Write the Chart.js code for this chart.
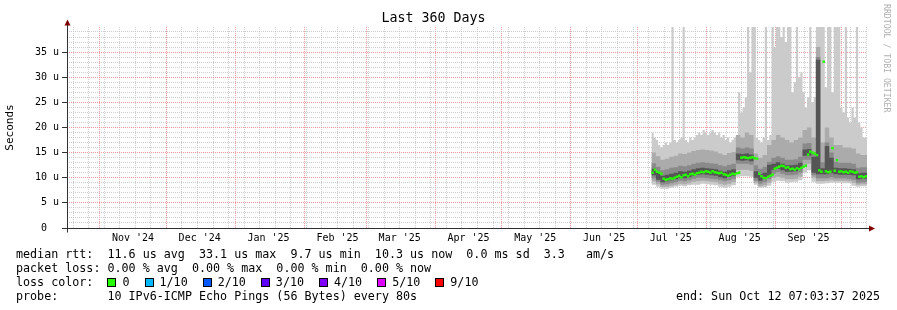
<!DOCTYPE html>
<html><head><meta charset="utf-8">
<script src="https://cdn.jsdelivr.net/npm/chart.js@4/dist/chart.umd.min.js"></script>
<style>
html,body{margin:0;padding:0;background:#fff;}
#wrap{position:relative;width:897px;height:310px;overflow:hidden;background:#fff;}
#c{position:absolute;left:0;top:0;}
.mono{font-family:'DejaVu Sans Mono',monospace;font-size:11.7px;white-space:pre;position:absolute;color:#000;line-height:14px;}
.sq{display:inline-block;width:7px;height:7px;border:1px solid #000;margin-right:6px;vertical-align:-1px;}
.lbl{margin-right:15px;}
#credit{position:absolute;left:882px;top:4px;font-family:'DejaVu Sans Mono',monospace;font-size:8.2px;color:#b0b0b0;writing-mode:vertical-rl;white-space:pre;line-height:9px;}
</style></head><body>
<div id="wrap">
<canvas id="c" width="897" height="310"></canvas>
<div id="credit">RRDTOOL / TOBI OETIKER</div>
</div>
<script>
// ---- text ----
const chartTitle = 'Last 360 Days';
const yAxisTitle = 'Seconds';
const monthLabels = ["Nov '24","Dec '24","Jan '25","Feb '25","Mar '25","Apr '25","May '25","Jun '25","Jul '25","Aug '25","Sep '25"];
const yTickValues = [0,5,10,15,20,25,30,35];
const yTickLabels = ['0  ','5 u','10 u','15 u','20 u','25 u','30 u','35 u'];
const statRtt  = 'median rtt:  11.6 us avg  33.1 us max  9.7 us min  10.3 us now  0.0 ms sd  3.3   am/s';
const statLoss = 'packet loss: 0.00 % avg  0.00 % max  0.00 % min  0.00 % now';
const lossTitle = 'loss color:  ';
const lossLabels = ['0','1/10','2/10','3/10','4/10','5/10','9/10'];
const lossColors = ['#26ff00','#00b8ff','#0059ff','#5e00ff','#7e00ff','#dd00ff','#ff0000'];
const probeLine = 'probe:       10 IPv6-ICMP Echo Pings (56 Bytes) every 80s';
const endLine = 'end: Sun Oct 12 07:03:37 2025';

// ---- data (microseconds), day index from graph start ----
const firstDay = 263;
// daily values, days 263..359
const medianRtt = [11.0,11.6,11.2,11.0,10.8,9.8,9.6,9.7,9.9,9.8,
 10.0,10.2,10.4,10.1,10.5,10.6,10.3,10.7,10.8,10.6,
 10.9,11.0,11.2,11.1,11.3,11.2,11.0,11.3,11.1,11.0,
 10.9,11.0,10.7,10.6,10.4,10.6,10.8,10.7,10.9,11.0,
 14.0,14.1,14.0,13.9,14.0,14.1,13.9,13.8,10.8,10.3,
 10.0,9.9,10.2,10.4,10.6,11.8,12.0,12.2,12.4,12.3,
 12.0,12.1,11.7,11.8,11.6,11.9,11.7,12.0,12.2,12.4,
 14.6,15.2,15.0,14.8,14.5,11.5,11.2,33.1,11.3,11.1,
 11.2,15.9,11.4,13.5,11.2,11.3,11.1,11.2,11.0,11.3,
 11.2,11.0,11.1,10.2,10.3,10.1,10.3];
const maxRtt = [19.5,19,18,17.5,16.5,16,16.5,17,16.5,17,
 40,17.5,17,17.5,18,40,17.5,17,18,17.5,
 18,18.5,19,18.5,19.5,19,18.5,19,19.5,19,
 18.5,19,18,18.5,17.5,18,17,17.5,18,18.5,
 27,23,24,26,40,31,40,40,18,17.5,
 17,18,40,17.5,18.5,40,36,40,40,38,
 40,37,40,40,27,29,40,30,31,27,
 24,26,40,25,26,40,40,40,40,28,
 40,40,27,40,40,40,24,23,40,22,
 21,24,22,40,21,20,18];
// two-day values, days 263,265,...,359
const minRtt = [8.8,8.6,8.2,7.8,7.8,8.0,8.2,8.4,8.3,8.5,
 8.6,8.6,8.8,8.7,8.6,8.5,8.2,8.0,8.2,8.5,
 10.2,10.3,10.3,10.2,8.6,8.0,8.1,8.4,9.2,9.4,
 9.3,9.0,9.1,9.2,9.5,11.0,11.5,9.2,8.8,8.8,
 8.9,9.0,9.0,9.0,8.9,8.9,8.4,8.2,8.3];
const low2 = [9.5,9.3,8.7,8.2,8.2,8.4,8.6,8.8,8.7,8.9,
 9.2,9.3,9.4,9.3,9.2,9.1,8.8,8.6,8.8,9.1,
 11.5,11.6,11.6,11.4,9.0,8.3,8.5,9.0,10.0,10.2,
 10.0,9.7,9.7,9.8,10.2,12.5,12.8,10.0,9.3,9.3,
 9.4,9.5,9.4,9.4,9.4,9.3,9.0,8.6,8.7];
const low3 = [10.0,9.9,9.2,8.6,8.7,8.9,9.1,9.4,9.3,9.5,
 9.8,10.0,10.0,9.9,9.8,9.7,9.5,9.3,9.5,9.8,
 12.8,12.8,12.8,12.6,9.4,8.8,9.1,9.7,10.8,11.1,
 10.8,10.5,10.5,10.6,11.0,13.6,13.6,10.5,9.9,9.9,
 9.9,10.1,9.9,9.9,9.9,9.8,9.6,9.0,9.1];
const low4 = [10.6,10.5,9.6,9.1,9.3,9.5,9.7,10.0,9.9,10.1,
 10.4,10.6,10.7,10.6,10.5,10.4,10.1,9.9,10.2,10.4,
 13.5,13.4,13.5,13.3,10.0,9.4,9.8,10.2,11.6,11.8,
 11.5,11.2,11.2,11.3,11.7,14.4,14.4,11.0,10.7,10.7,
 10.7,10.9,10.7,10.6,10.6,10.6,10.5,9.7,9.8];
const high4 = [12.0,11.8,11.0,10.4,10.6,10.8,11.0,11.3,11.2,11.4,
 11.7,11.9,12.0,11.9,11.8,11.7,11.4,11.2,11.5,11.7,
 14.8,14.7,14.8,14.6,11.3,10.7,11.0,12.6,12.8,13.1,
 12.8,12.5,12.5,12.6,13.0,15.6,15.7,14.2,33.5,11.9,
 16.3,14.0,12.0,11.9,11.9,11.8,11.7,10.9,11.0];
const high3 = [13.1,12.9,12.2,11.5,11.7,12.0,12.1,12.4,12.3,12.5,
 12.8,13.0,13.1,13.0,12.9,12.8,12.5,12.3,12.6,12.8,
 16.0,15.8,16.0,15.8,12.5,11.8,12.2,13.2,14.0,14.3,
 14.0,13.6,13.6,13.7,14.2,16.8,16.9,15.0,34.0,13.1,
 17.0,15.0,13.2,13.0,13.0,13.0,12.8,12.0,12.1];
const high2 = [15.2,15.0,14.3,13.6,13.8,14.2,14.4,14.8,14.7,15.0,
 15.3,15.5,15.6,15.5,15.4,15.2,14.8,14.5,14.9,15.1,
 18.5,18.0,19.0,18.5,14.8,14.0,14.5,16.5,17.5,18.5,
 18.0,17.5,17.0,17.5,18.0,19.5,20.0,18.0,36.0,17.0,
 20.0,18.0,16.5,16.5,16.0,16.0,15.8,14.8,14.5];

// ---- time axis ----
const SPAN_DAYS = 360;
const END_MS = Date.UTC(2025,9,12,7,3,37);
const START_MS = END_MS - SPAN_DAYS*864e5;
const dayOf = (y,m,d) => (Date.UTC(y,m,d) - START_MS)/864e5;

const xTicks = [];
for (let d = dayOf(2024,9,20); d <= SPAN_DAYS; d += 7) xTicks.push({value:d, kind:'week'});
for (let k = 0; k < 12; k++) {
  const y = 2024 + Math.floor((10+k)/12), m = (10+k)%12;
  xTicks.push({value: dayOf(y,m,1), kind:'month'});
  if (k < monthLabels.length) xTicks.push({value: dayOf(y,m,16), kind:'label', text: monthLabels[k]});
}
xTicks.sort((a,b)=>a.value-b.value || (a.kind==='month'?1:-1));

// ---- series builders ----
function daily(arr, shift){ const pts = arr.map((v,i)=>({x:firstDay+i+shift, y:v})); if(!shift) pts.push({x:firstDay+arr.length, y:arr[arr.length-1]}); return pts; }
function twoDay(arr){ const pts = arr.map((v,i)=>({x:firstDay+2*i, y:v})); pts.push({x:SPAN_DAYS, y:arr[arr.length-1]}); return pts; }

const band = (data, color, fill, order) => ({type:'line', data, stepped:'after', borderWidth:0, pointRadius:0, backgroundColor:color, fill, order});
const C1='#cbcbcb', C2='#ababab', C3='#8a8a8a', C4='#555555';

const datasets = [
  band(daily(maxRtt,0), C1, '+1', 20),
  band(twoDay(minRtt), C1, false, 21),
  band(twoDay(high2), C2, '+1', 16),
  band(twoDay(low2), C2, false, 17),
  band(twoDay(high3), C3, '+1', 12),
  band(twoDay(low3), C3, false, 13),
  band(twoDay(high4), C4, '+1', 8),
  band(twoDay(low4), C4, false, 9),
  {type:'line', data: daily(medianRtt,0.5), showLine:false, pointStyle:'line', pointRadius:1.25, pointHoverRadius:1.25, pointBorderWidth:2.5, pointBorderColor:lossColors[0], borderColor:lossColors[0], order:1}
];

const MINOR = 'rgba(190,190,190,0.75)';
const MAJOR = 'rgba(240,130,130,0.8)';
const AXIS = '#303030';
const ARROW = '#7f0000';
const mono = 'DejaVu Sans Mono';

const rrdAxes = {
  id:'rrdAxes',
  afterDatasetsDraw(chart){
    const {ctx, chartArea:a} = chart;
    const x0 = Math.round(a.left)+0.5, y0 = Math.round(a.bottom)+0.5;
    ctx.save();
    ctx.strokeStyle = AXIS; ctx.lineWidth = 1;
    ctx.beginPath();
    ctx.moveTo(x0-5, y0); ctx.lineTo(Math.round(a.right)+3, y0);
    ctx.moveTo(x0, y0+4); ctx.lineTo(x0, Math.round(a.top)-3);
    ctx.stroke();
    ctx.fillStyle = ARROW;
    ctx.beginPath();
    ctx.moveTo(x0-3, a.top-1.5); ctx.lineTo(x0+3, a.top-1.5); ctx.lineTo(x0, a.top-7.5); ctx.closePath(); ctx.fill();
    const xr = Math.round(a.right)+2;
    ctx.beginPath();
    ctx.moveTo(xr, y0-3); ctx.lineTo(xr, y0+3); ctx.lineTo(xr+6, y0); ctx.closePath(); ctx.fill();
    ctx.restore();
  }
};

new Chart(document.getElementById('c'), {
  type:'line',
  data:{datasets},
  plugins:[rrdAxes],
  options:{
    responsive:false, animation:false, devicePixelRatio:1,
    events:[],
    layout:{padding:{left:0,right:30,top:0,bottom:0}},
    plugins:{
      legend:{display:false}, tooltip:{enabled:false},
      title:{display:true, text:chartTitle, color:'#000', font:{family:mono, size:13.3, weight:'normal'}, padding:{top:11,bottom:0}}
    },
    scales:{
      x:{
        type:'linear', min:0, max:SPAN_DAYS,
        afterBuildTicks:(s)=>{ s.ticks = xTicks.map(t=>({value:t.value, kind:t.kind, text:t.text})); },
        afterFit:(s)=>{ s.height = 82; },
        ticks:{autoSkip:false, maxRotation:0, minRotation:0, padding:4, color:'#000', font:{family:mono, size:10},
          callback:function(v, i){ const t = xTicks[i]; return t && t.kind==='label' ? t.text : ''; }},
        grid:{drawTicks:false, lineWidth:1,
          color:(c)=>{ const t = c.tick; if(!t) return 'rgba(0,0,0,0)'; return t.kind==='month'?MAJOR:(t.kind==='week'?MINOR:'rgba(0,0,0,0)'); }},
        border:{display:false, dash:[1,1]}
      },
      y:{
        type:'linear', min:0, max:40,
        afterFit:(s)=>{ s.width = 67; },
        title:{display:true, text:yAxisTitle, color:'#000', font:{family:mono, size:11}, padding:{top:4,bottom:0}},
        ticks:{stepSize:1, autoSkip:false, padding:3, color:'#000', font:{family:mono, size:10},
          callback:(v)=>{ const i = yTickValues.indexOf(v); return i>=0 ? yTickLabels[i] : ''; }},
        grid:{drawTicks:true, tickLength:5, lineWidth:1,
          color:(c)=>{ const v = c.tick ? c.tick.value : -1; if(v<=0 || v>=40) return 'rgba(0,0,0,0)'; return v%5===0?MAJOR:MINOR; },
          tickColor:(c)=>{ const v = c.tick ? c.tick.value : -1; return (v%5===0 && v<40) ? AXIS : 'rgba(0,0,0,0)'; }},
        border:{display:false, dash:[1,1]}
      }
    }
  }
});

// ---- legend text ----
const wrap = document.getElementById('wrap');
function addLine(text, left, top){ const d=document.createElement('div'); d.className='mono'; d.style.left=left+'px'; d.style.top=top+'px'; d.textContent=text; wrap.appendChild(d); return d; }
addLine(statRtt, 16, 247);
addLine(statLoss, 16, 261);
const lc = addLine(lossTitle, 16, 275);
lossLabels.forEach((lab,i)=>{ const s=document.createElement('span'); s.className='sq'; s.style.background=lossColors[i]; lc.appendChild(s); const t=document.createElement('span'); t.className='lbl'; t.textContent=lab; lc.appendChild(t); });
addLine(probeLine, 16, 289);
const e = addLine(endLine, 0, 289); e.style.left=''; e.style.right='17px';
</script>
</body></html>
